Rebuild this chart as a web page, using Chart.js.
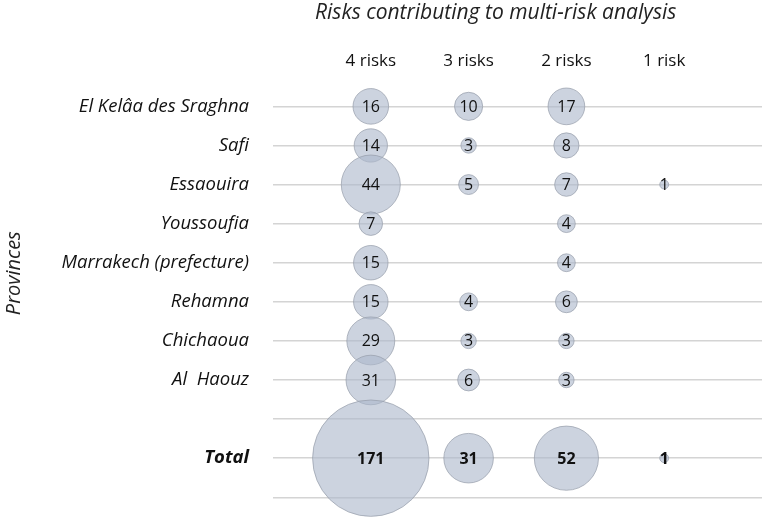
<!DOCTYPE html>
<html lang="en">
<head>
  <meta charset="UTF-8" />
  <title>Risks contributing to multi-risk analysis</title>
  <script src="https://cdn.jsdelivr.net/npm/chart.js"></script>
  <style>
    body { margin: 0; background: #fff; overflow: hidden; }
    canvas { display: block; }
  </style>
</head>
<body>
  <canvas id="chart" width="765" height="521"></canvas>

  <script>
    // rows top to bottom, '' is the empty spacer row
    const provinces = ['El Kelâa des Sraghna', 'Safi', 'Essaouira', 'Youssoufia', 'Marrakech (prefecture)',
                       'Rehamna', 'Chichaoua', 'Al  Haouz', '', 'Total', ''];
    const riskLabels = ['4 risks', '3 risks', '2 risks', '1 risk'];

    const fourRisks  = [16, 14, 44, 7, 15, 15, 29, 31, null, 171];
    const threeRisks = [10, 3, 5, null, null, 4, 3, 6, null, 31];
    const twoRisks   = [17, 8, 7, 4, 4, 6, 3, 3, null, 52];
    const oneRisk    = [null, null, 1, null, null, null, null, null, null, 1];

    const FONT = '"Open Sans", Lato, sans-serif';
    const series = [fourRisks, threeRisks, twoRisks, oneRisk];

    // bubble area proportional to the count
    const toPoints = (vals, col) => vals
      .map((v, row) => v == null ? null : { x: col + 1, y: row, r: 4.45 * Math.sqrt(v), v })
      .filter(p => p);

    const datasets = series.map((vals, i) => ({
      label: riskLabels[i],
      data: toPoints(vals, i),
      backgroundColor: 'rgba(172, 184, 203, 0.62)',
      borderColor: 'rgba(150, 157, 170, 0.7)',
      borderWidth: 1,
      clip: false
    }));

    const bubbleText = {
      id: 'bubbleText',
      afterDatasetsDraw(chart) {
        const ctx = chart.ctx;
        ctx.save();
        ctx.textAlign = 'center';
        ctx.textBaseline = 'middle';
        ctx.fillStyle = '#111';
        chart.data.datasets.forEach((ds, di) => {
          chart.getDatasetMeta(di).data.forEach((el, j) => {
            const p = ds.data[j];
            const bold = provinces[p.y] === 'Total';
            ctx.font = (bold ? 'bold ' : '') + '16px ' + FONT;
            ctx.fillText(String(p.v), el.x, el.y + 1);
          });
        });
        ctx.restore();
      }
    };

    new Chart(document.getElementById('chart'), {
      type: 'bubble',
      data: { datasets },
      plugins: [bubbleText],
      options: {
        responsive: false,
        animation: false,
        layout: { autoPadding: false, padding: { left: 0, right: 3, top: 0, bottom: 12 } },
        plugins: {
          legend: { display: false },
          tooltip: { enabled: false }
        },
        scales: {
          x: {
            position: 'top',
            min: 0,
            max: 5,
            afterBuildTicks: s => { s.ticks = riskLabels.map((_, i) => ({ value: i + 1 })); },
            afterFit: s => { s.height = 79; s.paddingLeft = 0; s.paddingRight = 0; },
            ticks: {
              callback: v => riskLabels[v - 1],
              color: '#111',
              font: { family: FONT, size: 17 },
              padding: 8,
              maxRotation: 0
            },
            grid: { display: false, drawTicks: false },
            border: { display: false },
            title: {
              display: true,
              text: 'Risks contributing to multi-risk analysis        ',
              color: '#222',
              font: { family: FONT, size: 21, style: 'italic' },
              padding: { top: 0, bottom: 0 }
            }
          },
          y: {
            reverse: true,
            min: -0.7,
            max: 10.3,
            afterBuildTicks: s => { s.ticks = provinces.map((_, i) => ({ value: i })); },
            afterFit: s => { s.width = 273; s.paddingTop = 0; s.paddingBottom = 0; },
            ticks: {
              callback: v => provinces[v],
              color: '#111',
              font: ctx => ({
                family: FONT,
                size: 18.5,
                style: 'italic',
                weight: ctx.tick && provinces[ctx.tick.value] === 'Total' ? 'bold' : 'normal'
              }),
              padding: 24
            },
            grid: { color: '#d4d4d4', lineWidth: 1.5, drawTicks: false },
            border: { display: false },
            title: {
              display: true,
              text: '        Provinces',
              color: '#222',
              font: { family: FONT, size: 20, style: 'italic' },
              padding: { top: 2, bottom: 0 }
            }
          }
        }
      }
    });
  </script>
</body>
</html>
